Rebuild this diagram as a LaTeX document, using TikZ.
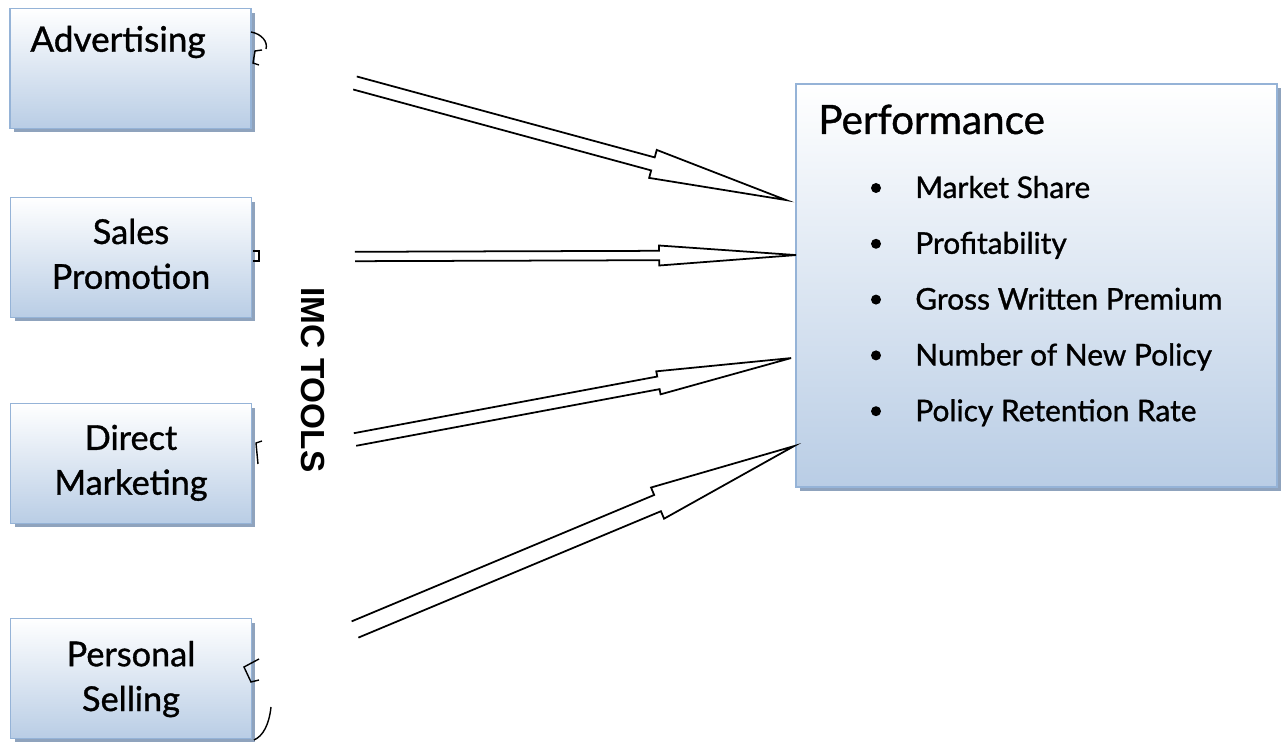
\documentclass[tikz,border=0pt]{standalone}
\usepackage{fontspec}
\setmainfont{Lato}[FakeBold=1]
\newfontfamily\imcfont{Liberation Sans}
\usetikzlibrary{calc,shadows}

\definecolor{boxline}{HTML}{95B3D7}
\definecolor{boxblue}{HTML}{B9CDE5}
\definecolor{boxshadow}{HTML}{8FA3BD}

\tikzset{
  toolbox/.style={draw=boxline, line width=1.1pt, top color=white, bottom color=boxblue,
    drop shadow={shadow xshift=0.08cm, shadow yshift=-0.08cm, fill=boxshadow, opacity=1},
    minimum width=4.82cm, minimum height=2.4cm, align=center,
    font=\fontsize{19.5}{25.5}\selectfont},
  itemtext/.style={anchor=base west, inner sep=0pt, font=\fontsize{17}{20}\selectfont},
  arrowline/.style={draw=black, line width=1pt, line join=miter},
}

% tail, tip, shaft half width, head half width, head length
\newcommand{\hollowarrow}[5]{%
  \draw[arrowline] ($(#1)!#3!90:(#2)$) -- ($(#2)!#5!(#1)!#3!-90:(#1)$)
    -- ($(#2)!#5!(#1)!#4!-90:(#1)$) -- (#2) -- ($(#2)!#5!(#1)!#4!90:(#1)$)
    -- ($(#2)!#5!(#1)!#3!90:(#1)$) -- ($(#1)!#3!-90:(#2)$);
}

\begin{document}
\begin{tikzpicture}[x=0.02cm, y=-0.02cm]
\useasboundingbox (0,0) rectangle (1285,742);

\node[toolbox] (adv) at (130.5,68.5) {};
\node[font=\fontsize{20}{24}\selectfont] (advtext) at (118,42) {Advertising};
\node[toolbox, text depth=0.15cm] (sales) at (131,257.5) {Sales\\Promotion};
\node[toolbox, text depth=0.15cm] (direct) at (131,463.5) {Direct\\Marketing};
\node[toolbox, text depth=0.1cm] (personal) at (131,678.5) {Personal\\Selling};

\node[toolbox, minimum width=9.62cm, minimum height=8.06cm] (perf) at (1036.5,285.5) {};
\node[anchor=base west, inner sep=0pt, font=\fontsize{23}{27}\selectfont] (perftitle) at (818,134) {Performance};

\foreach \txt [count=\i from 0] in {Market Share, Profitability, Gross Written Premium,
    Number of New Policy, Policy Retention Rate}{
  \fill (876,{188+55.8*\i}) circle[radius=0.1cm];
  \node[itemtext] (item\i) at (915,{198+55.8*\i}) {\txt};
}

\node[rotate=-90, font=\imcfont\bfseries\fontsize{19}{22}\selectfont] (imc) at (313,380) {IMC TOOLS};

\coordinate (s1) at (355,83);
\coordinate (s2) at (355,256.5);
\coordinate (s3) at (355,439.5);
\coordinate (s4) at (355,629.5);
\coordinate (p1) at ($(perf.north west)+(-9,117)$);
\coordinate (p2) at ($(perf.north west)+(1,172)$);
\coordinate (p3) at ($(perf.north west)+(-4,275)$);
\coordinate (p4) at ($(perf.north west)+(-1,363)$);

\hollowarrow{s1}{p1}{0.135cm}{0.29cm}{2.76cm}
\hollowarrow{s2}{p2}{0.094cm}{0.2cm}{2.74cm}
\hollowarrow{s3}{p3}{0.128cm}{0.234cm}{2.7cm}
\hollowarrow{s4}{p4}{0.176cm}{0.338cm}{2.96cm}

% small leftover marks beside the boxes
\draw[line width=0.8pt] (251,32) .. controls (262,34) and (268,42) .. (266,49);
\draw[line width=0.8pt] (262,50) -- (255,51) -- (253,63) -- (259,65);
\draw[line width=0.8pt] (253,251) -- (259,251) -- (259,261) -- (253,261);
\draw[line width=0.8pt] (262,441) -- (256,443) -- (258,464);
\draw[line width=0.8pt] (259,659) -- (244,667) -- (251,682) -- (259,680);
\draw[line width=0.8pt] (271,707) .. controls (269,725) and (263,736) .. (254,740);
\end{tikzpicture}
\end{document}
